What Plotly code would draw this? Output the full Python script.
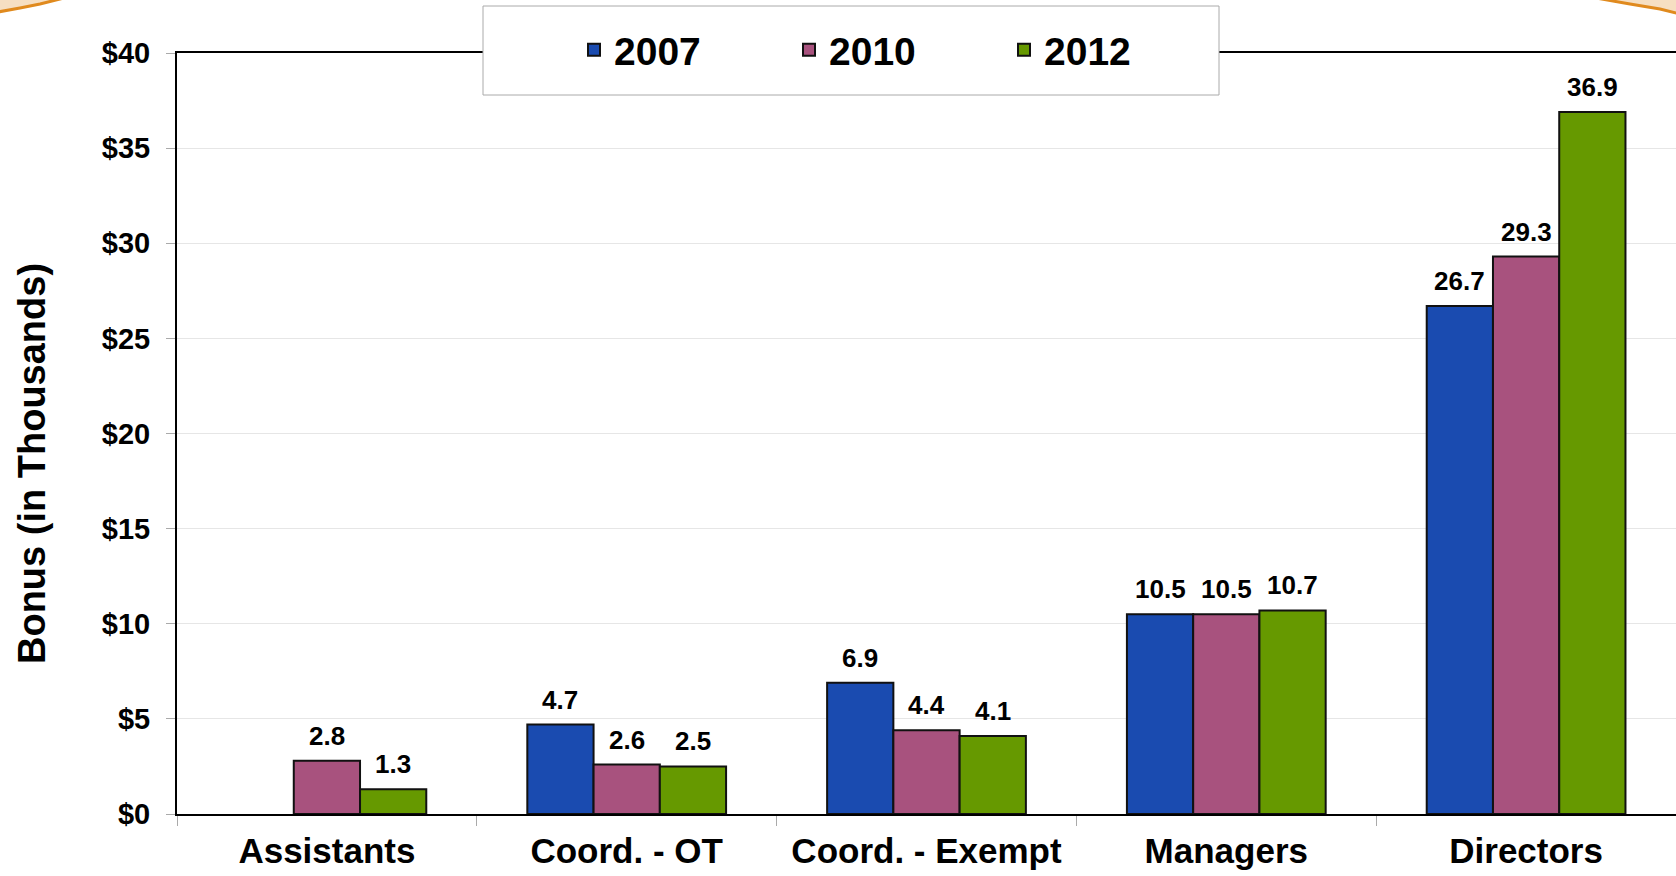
import plotly.graph_objects as go

categories = ["Assistants", "Coord. - OT", "Coord. - Exempt", "Managers", "Directors"]
series_names = ["2007", "2010", "2012"]
values_2007 = [None, 4.7, 6.9, 10.5, 26.7]
values_2010 = [2.8, 2.6, 4.4, 10.5, 29.3]
values_2012 = [1.3, 2.5, 4.1, 10.7, 36.9]
y_tick_values = [0, 5, 10, 15, 20, 25, 30, 35, 40]
y_tick_labels = ["$0", "$5", "$10", "$15", "$20", "$25", "$30", "$35", "$40"]
y_title = "Bonus (in Thousands)"

series_values = [values_2007, values_2010, values_2012]
colors = ["#1a4bb0", "#a8527e", "#669900"]

W, H = 1676, 876
ML, MR, MT, MB = 177, 0, 53, 62
PW = W - ML - MR
PH = H - MT - MB
FONT = "Liberation Sans, Arial, Helvetica, sans-serif"


def px_to_paper(px, py):
    return (px - ML) / PW, (H - MB - py) / PH


fig = go.Figure()
for name, vals, col in zip(series_names, series_values, colors):
    fig.add_trace(go.Bar(
        name=name, x=categories, y=vals,
        marker=dict(color=col, line=dict(color="#111111", width=2)),
    ))

# data labels
cat_px = PW / len(categories)
bar_px = cat_px * 0.663 / 3
for i, vals in enumerate(series_values):
    for c, v in zip(categories, vals):
        if v is None:
            continue
        fig.add_annotation(
            x=c, y=v, xref="x", yref="y", text=f"{v:.1f}", showarrow=False,
            xshift=(i - 1) * bar_px, yshift=8, yanchor="bottom",
            font=dict(family=FONT, size=26, color="black", weight="bold"),
        )

# y-axis title (placed like the reference, slightly below plot centre)
tx, ty = px_to_paper(32, 464)
fig.add_annotation(
    x=tx, y=ty, xref="paper", yref="paper", text=y_title, showarrow=False,
    textangle=-90, xanchor="center", yanchor="middle",
    font=dict(family=FONT, size=38, color="black", weight="bold"),
)

# legend box
lx0, ly0 = px_to_paper(483, 95)
lx1, ly1 = px_to_paper(1219, 6)
fig.add_shape(type="rect", xref="paper", yref="paper", x0=lx0, y0=ly0, x1=lx1, y1=ly1,
              fillcolor="white", line=dict(color="#aaaaaa", width=1), layer="above")


# corner decorations
def path_paper(points):
    s = ""
    for k, (px, py) in enumerate(points):
        x, y = px_to_paper(px, py)
        s += ("M" if k == 0 else "L") + f"{x:.5f},{y:.5f} "
    return s + "Z"


fig.add_shape(type="path", xref="paper", yref="paper",
              path=path_paper([(-2, -2), (-2, 12), (20, 8), (40, 4), (64, -2)]),
              fillcolor="#f6dfc2", line=dict(color="#e08a1e", width=3), layer="above")
fig.add_shape(type="path", xref="paper", yref="paper",
              path=path_paper([(1596, -2), (1630, 4), (1660, 9), (1680, 14), (1680, -2)]),
              fillcolor="#f6dfc2", line=dict(color="#e08a1e", width=3), layer="above")

lgx, lgy = px_to_paper(574, 50)
fig.update_layout(
    width=W, height=H,
    margin=dict(l=ML, r=MR, t=MT, b=MB, autoexpand=False),
    paper_bgcolor="white", plot_bgcolor="white",
    barmode="group", bargap=0.337, bargroupgap=0,
    font=dict(family=FONT, color="black"),
    showlegend=True,
    legend=dict(
        orientation="h", x=lgx, y=lgy, xanchor="left", yanchor="middle",
        bgcolor="rgba(0,0,0,0)", borderwidth=0,
        font=dict(family=FONT, size=39, color="black", weight="bold"),
        entrywidth=170, entrywidthmode="pixels", itemclick=False,
    ),
    xaxis=dict(
        showline=True, linecolor="black", linewidth=2, mirror=True,
        ticks="outside", tickson="boundaries", ticklen=10, tickcolor="#aaaaaa",
        tickfont=dict(family=FONT, size=35, color="black", weight="bold"),
        ticklabelstandoff=5,
        showgrid=False, fixedrange=True, automargin=False,
    ),
    yaxis=dict(
        range=[0, 40], tickvals=y_tick_values, ticktext=y_tick_labels,
        showline=True, linecolor="black", linewidth=2,
        ticks="outside", ticklen=9, tickcolor="#aaaaaa",
        tickfont=dict(family=FONT, size=29, color="black", weight="bold"),
        ticklabelstandoff=10,
        showgrid=True, gridcolor="#e6e6e6", gridwidth=1,
        zeroline=False, automargin=False,
        fixedrange=True,
    ),
)

fig.write_html(
    "out.html",
    config={"displayModeBar": False},
    post_script="document.body.style.margin='0';document.body.style.overflow='hidden';",
)
